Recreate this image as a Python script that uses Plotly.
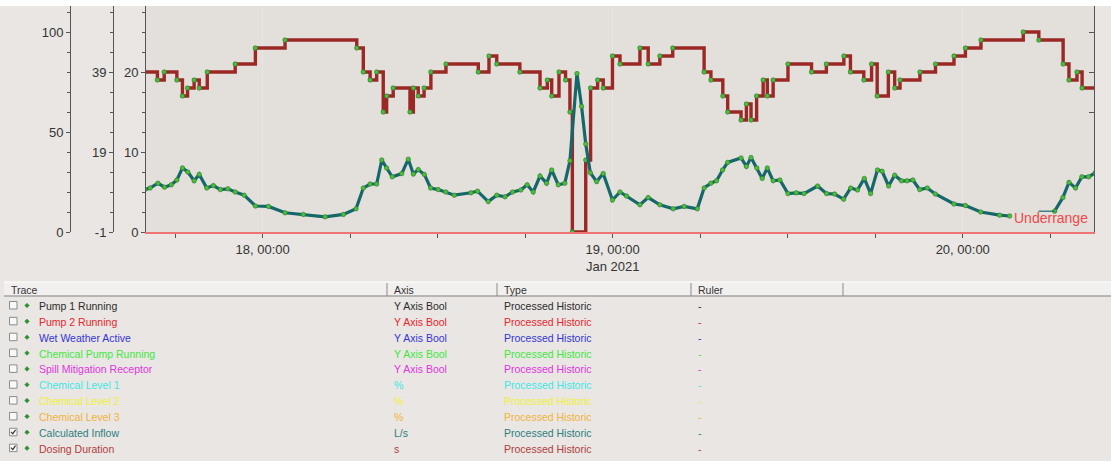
import plotly.graph_objects as go

W, H = 1111, 461

# ---------------- data ----------------
dd_times = [
    "2021-01-17 15:50", "2021-01-17 16:47", "2021-01-17 17:15", "2021-01-17 18:07", "2021-01-17 18:30",
    "2021-01-17 18:51", "2021-01-17 19:18", "2021-01-17 19:39", "2021-01-17 20:12", "2021-01-17 22:07",
    "2021-01-17 23:30", "2021-01-18 01:32", "2021-01-18 06:27", "2021-01-18 06:54", "2021-01-18 07:22",
    "2021-01-18 07:49", "2021-01-18 08:16", "2021-01-18 08:30", "2021-01-18 08:57", "2021-01-18 10:06",
    "2021-01-18 10:20", "2021-01-18 10:40", "2021-01-18 11:04", "2021-01-18 11:32", "2021-01-18 12:34",
    "2021-01-18 14:47", "2021-01-18 15:31", "2021-01-18 16:03", "2021-01-18 17:38", "2021-01-18 19:01",
    "2021-01-18 19:31", "2021-01-18 19:49", "2021-01-18 20:19", "2021-01-18 20:46", "2021-01-18 21:04",
    "2021-01-18 21:14", "2021-01-18 22:09", "2021-01-18 22:29", "2021-01-18 22:58", "2021-01-18 23:21",
    "2021-01-18 23:59", "2021-01-19 00:30", "2021-01-19 01:52", "2021-01-19 02:26", "2021-01-19 03:14",
    "2021-01-19 04:07", "2021-01-19 06:16", "2021-01-19 06:44", "2021-01-19 07:33", "2021-01-19 07:53",
    "2021-01-19 08:48", "2021-01-19 09:10", "2021-01-19 09:29", "2021-01-19 09:52", "2021-01-19 10:19",
    "2021-01-19 10:36", "2021-01-19 11:00", "2021-01-19 12:01", "2021-01-19 13:38", "2021-01-19 14:39",
    "2021-01-19 15:51", "2021-01-19 16:18", "2021-01-19 17:13", "2021-01-19 17:45", "2021-01-19 18:08",
    "2021-01-19 18:54", "2021-01-19 19:20", "2021-01-19 19:42", "2021-01-19 21:04", "2021-01-19 22:08",
    "2021-01-19 23:24", "2021-01-20 00:11", "2021-01-20 01:15", "2021-01-20 04:09", "2021-01-20 05:13",
    "2021-01-20 06:53", "2021-01-20 07:17", "2021-01-20 07:50", "2021-01-20 08:11", "2021-01-20 09:10",
]
dd_values = [
    20, 19, 20, 19, 17,
    18, 19, 18, 20, 21,
    23, 24, 23, 20, 19,
    20, 15, 17, 18, 15,
    18, 17, 18, 20, 21,
    20, 22, 21, 20, 18,
    19, 17, 20, 19, 15,
    0, 9, 18, 19, 18,
    22, 21, 23, 21, 22,
    23, 20, 19, 17, 15,
    14, 16, 14, 17, 19,
    17, 19, 21, 20, 21,
    22, 20, 19, 21, 17,
    20, 18, 19, 20, 21,
    22, 23, 24, 25, 24,
    21, 19, 20, 18, 18,
]

inflow_times = [
    "2021-01-17 15:55", "2021-01-17 16:17", "2021-01-17 16:49", "2021-01-17 17:16", "2021-01-17 17:44",
    "2021-01-17 18:07", "2021-01-17 18:30", "2021-01-17 18:52", "2021-01-17 19:18", "2021-01-17 19:39",
    "2021-01-17 20:10", "2021-01-17 20:37", "2021-01-17 21:06", "2021-01-17 21:37", "2021-01-17 22:07",
    "2021-01-17 22:44", "2021-01-17 23:30", "2021-01-18 00:24", "2021-01-18 01:32", "2021-01-18 02:47",
    "2021-01-18 04:17", "2021-01-18 05:32", "2021-01-18 06:24", "2021-01-18 06:54", "2021-01-18 07:22",
    "2021-01-18 07:49", "2021-01-18 08:10", "2021-01-18 08:30", "2021-01-18 08:53", "2021-01-18 09:32",
    "2021-01-18 09:59", "2021-01-18 10:20", "2021-01-18 10:40", "2021-01-18 11:05", "2021-01-18 11:31",
    "2021-01-18 12:02", "2021-01-18 12:33", "2021-01-18 13:08", "2021-01-18 14:17", "2021-01-18 14:44",
    "2021-01-18 15:28", "2021-01-18 16:03", "2021-01-18 16:37", "2021-01-18 17:08", "2021-01-18 17:42",
    "2021-01-18 18:08", "2021-01-18 18:33", "2021-01-18 19:01", "2021-01-18 19:28", "2021-01-18 19:49",
    "2021-01-18 20:16", "2021-01-18 20:43", "2021-01-18 21:04", "2021-01-18 21:33", "2021-01-18 21:52",
    "2021-01-18 22:09", "2021-01-18 22:28", "2021-01-18 22:54", "2021-01-18 23:21", "2021-01-18 23:59",
    "2021-01-19 00:30", "2021-01-19 00:57", "2021-01-19 01:52", "2021-01-19 02:26", "2021-01-19 03:14",
    "2021-01-19 04:09", "2021-01-19 04:54", "2021-01-19 05:48", "2021-01-19 06:16", "2021-01-19 06:44",
    "2021-01-19 07:07", "2021-01-19 07:32", "2021-01-19 07:53", "2021-01-19 08:48", "2021-01-19 09:10",
    "2021-01-19 09:29", "2021-01-19 09:53", "2021-01-19 10:15", "2021-01-19 10:36", "2021-01-19 11:00",
    "2021-01-19 11:28", "2021-01-19 12:01", "2021-01-19 12:35", "2021-01-19 13:07", "2021-01-19 14:03",
    "2021-01-19 14:40", "2021-01-19 15:13", "2021-01-19 15:50", "2021-01-19 16:19", "2021-01-19 16:47",
    "2021-01-19 17:15", "2021-01-19 17:41", "2021-01-19 18:09", "2021-01-19 18:28", "2021-01-19 18:55",
    "2021-01-19 19:20", "2021-01-19 19:48", "2021-01-19 20:11", "2021-01-19 20:35", "2021-01-19 21:03",
    "2021-01-19 21:34", "2021-01-19 22:07", "2021-01-19 23:24", "2021-01-20 00:11", "2021-01-20 01:14",
    "2021-01-20 02:32", "2021-01-20 03:13", "2021-01-20 04:00", "2021-01-20 06:18", "2021-01-20 06:52",
    "2021-01-20 07:17", "2021-01-20 07:44", "2021-01-20 08:10", "2021-01-20 08:38", "2021-01-20 09:05",
]
inflow_values = [
    5.3, 5.5, 6.1, 5.6, 5.9,
    6.5, 8.0, 7.5, 6.4, 7.2,
    5.5, 5.8, 5.3, 5.4, 5.0,
    4.6, 3.25, 3.2, 2.4, 2.2,
    1.9, 2.2, 2.9, 5.5, 6.0,
    6.0, 9.0, 8.0, 6.9, 7.3,
    9.1, 7.25, 7.8, 7.2, 5.5,
    5.3, 5.0, 4.6, 4.9, 5.1,
    3.8, 4.6, 4.4, 5.0, 5.25,
    5.9, 5.0, 7.0, 6.1, 7.75,
    5.9, 6.1, 8.9, 19.8, 15.7,
    11.0, 7.4, 6.3, 7.3, 4.0,
    5.0, 4.5, 3.4, 4.3, 3.4,
    2.9, 3.2, 2.9, 5.5, 6.1,
    6.4, 7.75, 8.7, 9.25, 8.2,
    9.3, 8.0, 6.7, 8.0, 6.4,
    6.5, 4.8, 4.9, 4.8, 5.75,
    4.8, 4.75, 4.1, 5.5, 5.25,
    6.7, 4.8, 7.75, 7.6, 5.75,
    7.1, 6.4, 6.4, 6.5, 5.3,
    5.5, 4.75, 3.5, 3.3, 2.5,
    2.1, 2.0, None, 2.6, 4.3,
    6.2, 5.5, 6.9, 6.9, 7.4,
]

# thin segment drawn while the inflow is under range
under_times = ["2021-01-20 05:12", "2021-01-20 06:18"]
under_values = [2.6, 2.6]

x_range = ["2021-01-17 16:00", "2021-01-20 09:00"]
day_ticks = ["2021-01-18 00:00", "2021-01-19 00:00", "2021-01-20 00:00"]
day_labels = ["18, 00:00", "19, 00:00<br>Jan 2021", "20, 00:00"]

# left axes (outer -> inner)
ax1_ticks = [0, 50, 100]
ax1_labels = ["0", "50", "100"]
ax2_ticks = [-1, 19, 39]
ax2_labels = ["-1", "19", "39"]
ax3_ticks = [0, 10, 20]
ax3_labels = ["0", "10", "20"]

# legend table
trace_names = ["Pump 1 Running", "Pump 2 Running", "Wet Weather Active", "Chemical Pump Running",
               "Spill Mitigation Receptor", "Chemical Level 1", "Chemical Level 2", "Chemical Level 3",
               "Calculated Inflow", "Dosing Duration"]
trace_axes = ["Y Axis Bool", "Y Axis Bool", "Y Axis Bool", "Y Axis Bool", "Y Axis Bool",
              "%", "%", "%", "L/s", "s"]
trace_types = ["Processed Historic"] * 10
trace_rulers = ["-"] * 10
trace_colors = ["#2b2b2b", "#e8242c", "#3434d6", "#3fe63f", "#e034e0",
                "#40e6e6", "#f0f038", "#f0b43c", "#2c7f7f", "#b23c3c"]
trace_checked = [False] * 8 + [True, True]
table_headers = ["Trace", "Axis", "Type", "Ruler"]

# ---------------- figure ----------------
FONT = "Liberation Sans, Arial, sans-serif"
PAPER = "#e9e6e3"
PLOT_BG = "#e3e0dc"
AX = "#555555"

def px(x):
    return x / W

def py(y):
    return 1 - y / H

plot_left, plot_right, plot_top, plot_bottom = 146, 1094, 6, 232
ydom = [py(plot_bottom), py(plot_top)]

fig = go.Figure()

marker_style = dict(size=4.5, color="#4cbc3c", line=dict(color="#2a7a2a", width=0.6))

fig.add_trace(go.Scatter(
    x=dd_times, y=dd_values, mode="lines+markers", name="Dosing Duration",
    line=dict(color="#9c2826", width=3.4, shape="hv"), marker=marker_style,
))
fig.add_trace(go.Scatter(
    x=inflow_times, y=inflow_values, mode="lines+markers", name="Calculated Inflow",
    line=dict(color="#16676a", width=3.2), marker=marker_style, connectgaps=False,
))
fig.add_trace(go.Scatter(
    x=under_times, y=under_values, mode="lines", name="Calculated Inflow (underrange)",
    line=dict(color="#16676a", width=1.2),
))
# empty traces so the extra axes are drawn
for ya in ["y2", "y3", "y4"]:
    fig.add_trace(go.Scatter(x=[None], y=[None], yaxis=ya, mode="lines", hoverinfo="skip",
                             showlegend=False))

tickfont = dict(family=FONT, size=13, color="#333333")

fig.update_layout(
    template="none",
    width=W, height=H, autosize=False,
    margin=dict(l=0, r=0, t=0, b=0, pad=0, autoexpand=False),
    paper_bgcolor=PAPER, plot_bgcolor=PLOT_BG,
    showlegend=False,
    font=dict(family=FONT, color="#333333"),
    xaxis=dict(
        type="date", range=x_range, domain=[px(plot_left), px(plot_right)], automargin=False,
        tickvals=day_ticks, ticktext=day_labels, tickfont=tickfont,
        ticks="outside", ticklen=4, tickcolor=AX,
        minor=dict(dtick=6 * 3600 * 1000, tick0="2021-01-18 00:00", ticks="outside",
                   ticklen=4, tickcolor=AX, showgrid=False),
        showline=True, linecolor="#ef7474", linewidth=2,
        showgrid=True, gridcolor="#e8e5e2", gridwidth=1,
        zeroline=False,
    ),
    yaxis=dict(
        range=[0, 28.25], domain=ydom, anchor="x", automargin=False,
        tickvals=ax3_ticks, ticktext=ax3_labels, tickfont=tickfont, ticks="outside", ticklen=4, tickcolor=AX,
        minor=dict(dtick=2.5, tick0=0, ticks="outside", ticklen=3, tickcolor=AX, showgrid=False),
        showline=True, linecolor=AX, linewidth=1, showgrid=False, zeroline=False,
    ),
    yaxis2=dict(
        range=[-1, 55.5], domain=ydom, anchor="free", overlaying="y", side="left", automargin=False,
        position=px(113),
        tickvals=ax2_ticks, ticktext=ax2_labels, tickfont=tickfont, ticks="outside", ticklen=4, tickcolor=AX,
        minor=dict(dtick=5, tick0=-1, ticks="outside", ticklen=3, tickcolor=AX, showgrid=False),
        showline=True, linecolor=AX, linewidth=1, showgrid=False, zeroline=False,
    ),
    yaxis3=dict(
        range=[0, 113], domain=ydom, anchor="free", overlaying="y", side="left", automargin=False,
        position=px(70),
        tickvals=ax1_ticks, ticktext=ax1_labels, tickfont=tickfont, ticks="outside", ticklen=4, tickcolor=AX,
        minor=dict(dtick=10, tick0=0, ticks="outside", ticklen=3, tickcolor=AX, showgrid=False),
        showline=True, linecolor=AX, linewidth=1, showgrid=False, zeroline=False,
    ),
    yaxis4=dict(
        range=[0, 113], domain=ydom, anchor="x", overlaying="y", side="right", automargin=False,
        tickvals=[60, 80, 100], showticklabels=False, ticks="inside", ticklen=5, tickcolor=AX,
        showline=True, linecolor=AX, linewidth=1, showgrid=False, zeroline=False,
    ),
)

shapes = []
annotations = []

# white strip at top
shapes.append(dict(type="rect", xref="paper", yref="paper", x0=0, x1=1, y0=py(plot_top), y1=1,
                   fillcolor="#ffffff", line=dict(width=0), layer="below"))

annotations.append(dict(text="Underrange", xref="paper", yref="paper", x=px(1012), y=py(218),
                        xanchor="left", yanchor="middle", showarrow=False,
                        font=dict(family=FONT, size=14, color="#f04848")))

# ---- table ----
hdr_top, hdr_bot = 282, 296
shapes.append(dict(type="rect", xref="paper", yref="paper", x0=px(4), x1=1, y0=py(hdr_bot), y1=py(hdr_top),
                   fillcolor="#f2f0ee", line=dict(width=0)))
shapes.append(dict(type="line", xref="paper", yref="paper", x0=px(4), x1=1, y0=py(hdr_bot), y1=py(hdr_bot),
                   line=dict(color="#a6a4a1", width=1.5)))
shapes.append(dict(type="line", xref="paper", yref="paper", x0=px(4), x1=1, y0=py(hdr_top), y1=py(hdr_top),
                   line=dict(color="#ffffff", width=1)))
for sx in [387, 497, 691, 843]:
    shapes.append(dict(type="line", xref="paper", yref="paper", x0=px(sx), x1=px(sx),
                       y0=py(hdr_bot), y1=py(hdr_top + 1), line=dict(color="#8e8c89", width=1)))

col_x = [9, 392, 502, 696]
for cx, txt in zip(col_x, table_headers):
    annotations.append(dict(text=txt, xref="paper", yref="paper", x=px(cx), y=py(289.5),
                            xanchor="left", yanchor="middle", showarrow=False,
                            font=dict(family=FONT, size=10.5, color="#333333")))

row0, drow = 306, 15.85
for i, name in enumerate(trace_names):
    yc = row0 + i * drow
    col = trace_colors[i]
    for cx, txt in zip([37, 392, 502, 696], [name, trace_axes[i], trace_types[i], trace_rulers[i]]):
        annotations.append(dict(text=txt, xref="paper", yref="paper", x=px(cx), y=py(yc),
                                xanchor="left", yanchor="middle", showarrow=False,
                                font=dict(family=FONT, size=10.5, color=col)))
    # checkbox
    shapes.append(dict(type="rect", xref="paper", yref="paper", x0=px(9.5), x1=px(17),
                       y0=py(yc + 3), y1=py(yc - 4.5), fillcolor="#f8f8f8",
                       line=dict(color="#8c8c8c", width=1)))
    if trace_checked[i]:
        path = "M {} {} L {} {} L {} {}".format(px(11), py(yc - 1), px(12.8), py(yc + 1), px(15.5), py(yc - 3))
        shapes.append(dict(type="path", xref="paper", yref="paper", path=path,
                           line=dict(color="#303030", width=1.2)))
    # diamond marker
    d = 2.3
    path = "M {} {} L {} {} L {} {} L {} {} Z".format(px(27 - d), py(yc - 0.5), px(27), py(yc - 0.5 - d),
                                                    px(27 + d), py(yc - 0.5), px(27), py(yc - 0.5 + d))
    shapes.append(dict(type="path", xref="paper", yref="paper", path=path,
                       fillcolor="#2e8f2e", line=dict(color="#2e8f2e", width=0.5)))

fig.update_layout(shapes=shapes, annotations=annotations)

fig.write_html("out.html", config={"displayModeBar": False, "responsive": False},
               post_script="document.body.style.margin='0';document.body.style.background='" + PAPER + "';")
